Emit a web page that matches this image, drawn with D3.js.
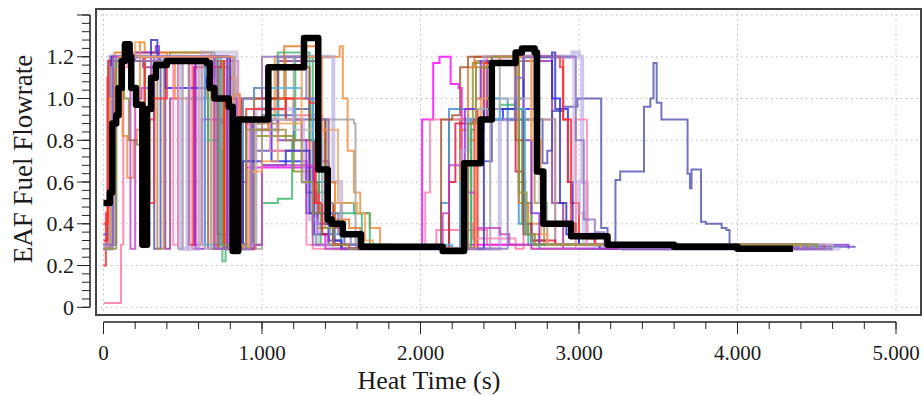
<!DOCTYPE html>
<html>
<head>
<meta charset="utf-8">
<script src="https://cdn.jsdelivr.net/npm/d3@7/dist/d3.min.js"></script>
<style>
    body { margin: 0; background: #fff; }
    text { font-family: "Liberation Serif", "DejaVu Serif", serif; fill: #1a1a1a; }
</style>
</head>
<body>
<svg id="chart" width="923" height="396"></svg>
<script>
// tick values shown on the axes
const xTickValues = [0, 1000, 2000, 3000, 4000, 5000]
const yTickValues = [0, 0.2, 0.4, 0.6, 0.8, 1.0, 1.2]

// each heat: [time (s), fuel flowrate] steps, value held until next step
const heat01 = [[0,0.02],[100,0.02],[110,0.3],[125,1.15],[150,1.18],[500,1.18],[560,0.28],[600,1.18],[820,1.18],[850,0.3],[900,0.88],[1000,0.92],[1150,0.92],[1380,0.5],[1450,0.3],[1600,0.28],[2050,0.28],[2100,0.37],[2300,0.37],[2420,0.3],[2600,0.28],[2650,0.9],[2820,0.9],[2850,0.3],[4400,0.28]]
const heat02 = [[0,0.2],[15,0.45],[35,1.0],[50,1.18],[250,1.18],[260,0.52],[290,0.9],[320,1.18],[720,1.18],[760,0.35],[800,0.28],[880,1.0],[1100,1.0],[1200,0.95],[1300,0.6],[1360,0.45],[1450,0.3],[1550,0.28],[2330,0.28],[2360,0.95],[2420,1.0],[2450,1.2],[2870,1.2],[2900,0.9],[2950,0.5],[3000,0.35],[3100,0.3],[4300,0.28]]
const heat03 = [[0,0.35],[30,1.18],[560,1.18],[580,0.3],[620,0.9],[750,0.88],[800,0.3],[880,0.6],[900,0.67],[1300,0.67],[1330,0.55],[1350,0.35],[1400,0.3],[1500,0.28],[2000,0.28],[2010,0.9],[2080,1.17],[2120,1.2],[2190,1.07],[2240,1.05],[2260,0.3],[2300,0.3],[2900,0.28],[4500,0.28]]
const heat04 = [[0,0.28],[40,1.0],[60,1.2],[240,1.2],[250,1.15],[380,1.15],[390,0.28],[420,1.0],[470,1.18],[640,1.18],[660,0.28],[700,1.2],[770,1.2],[790,0.28],[900,0.28],[950,0.95],[1050,0.95],[1100,1.18],[1300,1.18],[1350,0.7],[1420,0.5],[1500,0.35],[1600,0.28],[2200,0.28],[2250,0.9],[2400,0.9],[2420,1.18],[2800,1.18],[2830,0.5],[2900,0.3],[4500,0.28]]
const heat05 = [[0,0.3],[50,1.18],[380,1.18],[390,1.05],[640,1.05],[650,1.1],[700,1.2],[800,1.2],[820,0.3],[900,0.3],[940,0.9],[1040,0.9],[1060,0.7],[1200,0.7],[1280,0.55],[1330,0.35],[1420,0.3],[1500,0.28],[2280,0.28],[2300,0.9],[2500,0.9],[2520,0.95],[2700,0.95],[2720,1.2],[2800,1.2],[2830,1.0],[2880,0.95],[2930,0.6],[2960,0.35],[3000,0.3],[4400,0.28]]
const heat06 = [[0,0.3],[80,1.2],[300,1.2],[320,0.28],[360,1.2],[700,1.2],[720,0.35],[760,0.28],[900,0.28],[950,0.75],[1100,0.75],[1200,0.9],[1350,0.9],[1400,0.45],[1460,0.4],[1520,0.3],[1600,0.28],[2300,0.28],[2350,0.7],[2450,0.9],[2750,0.9],[2770,0.69],[2800,0.75],[2830,0.94],[2900,0.96],[2990,1.0],[3130,1.0],[3140,0.38],[3180,0.3],[3220,0.28],[3230,0.61],[3260,0.65],[3400,0.65],[3410,0.96],[3450,1.0],[3470,1.17],[3490,0.98],[3520,0.9],[3680,0.9],[3685,0.64],[3700,0.57],[3710,0.66],[3760,0.66],[3770,0.41],[3800,0.4],[3900,0.38],[3930,0.37],[3950,0.29],[4745,0.29]]
const heat07 = [[0,0.3],[40,1.2],[110,1.2],[120,0.82],[150,0.62],[190,0.8],[210,0.85],[230,1.27],[260,1.22],[400,1.2],[450,1.0],[600,1.0],[650,1.05],[700,0.3],[760,0.28],[780,1.1],[840,0.3],[900,0.3],[1000,0.9],[1080,1.2],[1380,1.2],[1490,1.25],[1510,1.0],[1540,0.75],[1580,0.55],[1620,0.45],[1680,0.38],[1745,0.3],[1850,0.28],[2250,0.28],[2300,0.8],[2380,1.15],[2420,1.2],[2650,1.2],[2700,0.4],[2800,0.3],[4400,0.28]]
const heat08 = [[0,0.28],[30,0.9],[60,1.18],[400,1.18],[420,1.22],[700,1.2],[720,0.3],[850,0.28],[900,0.3],[1000,0.5],[1100,0.52],[1190,0.8],[1210,1.2],[1300,1.2],[1320,0.35],[1340,0.3],[1370,0.5],[1560,0.5],[1580,0.45],[1650,0.45],[1680,0.3],[1800,0.28],[2280,0.28],[2320,0.85],[2400,1.15],[2450,1.2],[2560,1.2],[2600,0.9],[2650,0.5],[2700,0.32],[2800,0.3],[4400,0.28]]
const heat09 = [[0,0.3],[30,1.15],[80,1.2],[330,1.2],[340,0.28],[380,1.2],[600,1.2],[620,0.3],[660,1.2],[760,1.2],[790,0.28],[880,0.28],[900,0.88],[1100,0.9],[1150,1.2],[1300,1.2],[1350,0.9],[1420,0.5],[1500,0.35],[1600,0.29],[2200,0.28],[2250,0.9],[2350,1.18],[2680,1.18],[2720,0.5],[2780,0.3],[4350,0.28]]
const heat10 = [[0,0.28],[60,0.3],[70,1.18],[450,1.18],[470,0.28],[500,1.2],[800,1.2],[830,0.28],[950,0.28],[1000,0.9],[1100,0.9],[1200,1.2],[1300,1.2],[1350,0.9],[1580,0.88],[1590,0.3],[1700,0.28],[2400,0.28],[2440,0.9],[2500,1.18],[2600,1.18],[2650,0.9],[2780,0.9],[2850,0.3],[4500,0.28]]
const heat11 = [[0,0.28],[50,1.2],[480,1.2],[490,0.28],[530,1.0],[700,1.2],[760,1.2],[780,0.28],[900,0.28],[940,0.85],[1050,0.85],[1100,1.2],[1400,1.2],[1450,0.6],[1500,0.35],[1600,0.28],[2400,0.28],[2500,0.9],[2600,1.2],[2960,1.22],[3000,1.2],[3020,0.6],[3050,0.35],[3100,0.3],[3250,0.3],[3280,0.28],[4600,0.28]]
const heat12 = [[0,0.3],[50,1.0],[100,1.2],[130,1.0],[160,0.8],[210,0.78],[230,0.9],[260,1.18],[650,1.18],[680,0.28],[730,1.15],[780,1.15],[800,0.28],[900,0.28],[950,0.82],[1150,0.82],[1200,0.65],[1300,0.6],[1350,0.38],[1420,0.3],[1500,0.28],[2150,0.28],[2180,0.9],[2300,0.9],[2330,1.17],[2580,1.17],[2620,0.6],[2660,0.35],[2720,0.3],[4450,0.28]]
const heat13 = [[0,0.35],[40,1.15],[80,1.2],[700,1.2],[740,0.3],[800,0.28],[880,0.9],[1000,0.92],[1200,0.95],[1300,1.0],[1320,0.6],[1400,0.4],[1460,0.3],[1600,0.28],[2100,0.28],[2130,0.5],[2180,0.95],[2400,1.0],[2500,1.0],[2550,0.9],[2620,0.4],[2700,0.3],[2750,0.28],[4400,0.28]]
const heat14 = [[0,0.32],[25,1.1],[60,1.2],[520,1.2],[540,0.3],[570,1.15],[740,1.18],[760,0.3],[850,0.28],[870,1.0],[950,1.05],[1000,1.0],[1150,0.9],[1250,0.8],[1330,0.5],[1380,0.35],[1450,0.3],[1500,0.28],[2150,0.28],[2180,0.6],[2220,0.88],[2330,0.9],[2400,0.95],[2560,0.95],[2600,0.65],[2650,0.4],[2700,0.32],[2850,0.3],[4550,0.28]]
const heat15 = [[0,0.28],[40,0.9],[70,1.22],[660,1.22],[680,0.3],[720,0.28],[770,1.0],[830,1.02],[860,0.28],[900,0.28],[960,0.85],[1040,1.0],[1140,1.25],[1300,1.25],[1340,0.85],[1400,0.6],[1460,0.42],[1550,0.38],[1620,0.3],[1700,0.28],[2200,0.28],[2250,0.85],[2300,1.15],[2340,1.2],[2580,1.2],[2620,0.5],[2680,0.35],[2750,0.3],[4450,0.28]]
const heat16 = [[0,0.28],[20,0.3],[60,1.2],[420,1.2],[440,0.3],[470,1.2],[780,1.2],[800,0.28],[880,0.28],[920,0.9],[1000,0.9],[1050,0.75],[1250,0.7],[1280,0.3],[1320,0.28],[2000,0.28],[2030,0.55],[2060,0.9],[2250,0.9],[2300,0.4],[2330,0.33],[2560,0.33],[2600,0.3],[2700,0.28],[2950,0.28],[2980,0.9],[3020,0.9],[3050,0.3],[4300,0.28]]
const heat17 = [[0,0.3],[40,1.18],[180,1.18],[200,1.22],[330,1.25],[350,1.18],[560,1.18],[580,0.28],[620,0.28],[640,1.2],[760,1.2],[780,0.28],[860,0.3],[900,0.9],[1080,0.9],[1100,0.8],[1200,0.8],[1280,0.45],[1350,0.4],[1420,0.32],[1500,0.28],[2250,0.28],[2280,0.95],[2350,1.0],[2380,1.18],[2600,1.2],[2650,0.8],[2700,0.45],[2750,0.3],[4700,0.28]]
const heat18 = [[0,0.3],[50,1.18],[640,1.18],[660,0.8],[720,0.75],[750,0.22],[770,0.3],[850,0.28],[900,0.9],[1000,0.92],[1100,1.22],[1260,1.22],[1300,0.8],[1360,0.55],[1420,0.45],[1600,0.45],[1630,0.3],[1750,0.28],[2280,0.28],[2320,0.9],[2400,0.95],[2500,0.97],[2600,0.95],[2640,0.4],[2680,0.3],[4500,0.28]]
const heat19 = [[0,0.3],[40,1.18],[700,1.18],[720,0.28],[900,0.28],[950,1.0],[1050,1.0],[1100,1.15],[1250,1.15],[1300,0.9],[1400,0.5],[1450,0.38],[1500,0.3],[1600,0.28],[2100,0.28],[2130,0.9],[2200,0.92],[2250,1.15],[2300,1.2],[2550,1.2],[2600,0.8],[2650,0.35],[2700,0.3],[4400,0.28]]
const heat20 = [[0,0.3],[40,1.2],[520,1.2],[540,0.28],[600,0.3],[620,1.22],[820,1.22],[840,0.28],[920,0.3],[960,0.95],[1100,0.95],[1200,0.9],[1260,0.6],[1300,0.42],[1350,0.3],[1450,0.28],[2200,0.28],[2260,0.75],[2300,0.9],[2400,1.2],[2950,1.2],[2970,0.6],[3000,0.45],[3030,0.3],[3250,0.3],[3280,0.28],[4650,0.28]]
const heat21 = [[0,0.3],[60,1.2],[600,1.2],[640,0.3],[700,0.28],[800,0.3],[880,1.0],[950,1.05],[1100,1.05],[1250,1.0],[1320,0.8],[1380,0.5],[1430,0.35],[1500,0.3],[2200,0.28],[2250,0.6],[2300,0.9],[2450,0.9],[2500,0.95],[2620,0.95],[2660,0.35],[2700,0.3],[4500,0.28]]
const heat22 = [[0,0.4],[30,1.18],[150,1.2],[260,0.9],[280,0.5],[300,0.5],[320,1.0],[400,1.18],[740,1.18],[760,0.28],[870,0.28],[900,0.95],[1150,1.0],[1300,0.98],[1340,0.5],[1380,0.4],[1450,0.3],[1550,0.28],[2300,0.28],[2340,0.9],[2400,1.17],[2500,1.2],[2880,1.15],[2900,0.9],[2930,0.6],[2950,0.4],[2980,0.35],[3050,0.33],[3100,0.3],[3200,0.28],[4300,0.28]]
const heat23 = [[0,0.28],[50,1.2],[270,1.2],[300,1.28],[340,1.2],[780,1.2],[800,0.28],[850,0.28],[880,0.7],[1000,0.68],[1150,0.75],[1260,0.75],[1300,0.45],[1400,0.4],[1450,0.32],[1500,0.28],[2350,0.28],[2400,0.95],[2600,1.0],[2650,1.2],[2830,1.22],[2850,0.95],[2880,0.5],[2920,0.35],[3000,0.3],[3130,0.28],[4450,0.28]]
const heat24 = [[0,0.28],[50,1.15],[70,1.2],[580,1.2],[600,0.3],[640,0.28],[680,1.0],[750,1.0],[800,0.28],[900,0.3],[960,0.9],[1100,0.9],[1200,0.85],[1300,0.85],[1380,0.5],[1500,0.35],[1600,0.3],[1700,0.28],[2300,0.28],[2350,0.95],[2500,1.0],[2700,1.0],[2750,0.5],[2800,0.3],[4600,0.28]]
const heat25 = [[0,0.3],[60,1.2],[160,1.2],[170,0.28],[200,1.0],[240,1.05],[300,1.2],[680,1.2],[700,0.28],[760,0.3],[800,1.0],[840,0.28],[950,0.3],[1000,0.68],[1300,0.68],[1320,0.3],[1400,0.28],[2100,0.28],[2140,0.45],[2180,0.68],[2250,0.68],[2300,0.55],[2350,0.38],[2500,0.35],[2560,0.3],[2700,0.28],[4550,0.28]]
const heat26 = [[0,0.3],[40,1.0],[100,1.2],[200,1.27],[230,1.2],[800,1.2],[820,0.3],[880,0.28],[920,0.65],[1000,0.7],[1100,0.88],[1200,0.88],[1250,1.2],[1330,1.2],[1380,0.85],[1480,0.5],[1600,0.45],[1650,0.32],[1700,0.3],[1800,0.28],[2300,0.28],[2350,1.0],[2450,1.17],[2500,1.2],[2650,1.2],[2700,0.8],[2760,0.35],[2800,0.3],[4400,0.28]]
const heat27 = [[0,0.28],[80,1.18],[730,1.18],[750,0.3],[860,0.28],[900,0.85],[1000,0.85],[1150,0.8],[1250,0.6],[1320,0.45],[1400,0.38],[1450,0.3],[1550,0.28],[2250,0.28],[2300,0.88],[2350,1.15],[2450,1.2],[2600,1.2],[2620,0.55],[2670,0.35],[2720,0.3],[4500,0.28]]
const heat28 = [[0,0.3],[60,1.18],[700,1.18],[720,0.28],[900,0.28],[930,0.9],[1000,1.2],[1250,1.2],[1280,1.0],[1350,0.9],[1420,0.45],[1480,0.35],[1560,0.3],[1650,0.28],[2500,0.28],[2550,0.9],[2600,1.1],[2650,1.2],[2960,1.2],[2980,0.8],[3030,0.42],[3100,0.36],[3160,0.3],[3250,0.28],[4600,0.28]]

// the highlighted heat drawn on top
const referenceHeat = [[0,0.5],[40,0.55],[55,0.88],[80,0.92],[95,1.05],[115,1.18],[135,1.26],[165,1.2],[175,1.05],[205,0.97],[245,0.3],[275,0.95],[300,1.1],[330,1.16],[400,1.18],[650,1.17],[670,1.05],[700,1.0],[790,0.96],[815,0.27],[850,0.9],[1040,1.15],[1265,1.29],[1355,0.66],[1415,0.42],[1440,0.4],[1510,0.35],[1625,0.29],[2140,0.27],[2275,0.69],[2380,0.9],[2450,1.17],[2600,1.22],[2640,1.24],[2720,1.22],[2735,0.65],[2775,0.4],[2950,0.34],[3180,0.3],[3600,0.29],[4000,0.28],[4350,0.28]]

const heats = [heat01, heat02, heat03, heat04, heat05, heat06, heat07, heat08, heat09, heat10, heat11, heat12, heat13, heat14,
    heat15, heat16, heat17, heat18, heat19, heat20, heat21, heat22, heat23, heat24, heat25, heat26, heat27, heat28]

const HEAT_COLOURS = ["#ff6f9f", "#ff2020", "#ff00ff", "#9b30a0", "#2222ff", "#5050b0", "#f08a3c", "#34b364", "#b08850", "#a0a0a0",
    "#a898d8", "#8c8c2c", "#3d8fd8", "#dc143c", "#e8741c", "#ff7fb0", "#8a2be2", "#3cb371", "#a0522d", "#b8a8d8",
    "#4fb0e0", "#ff3030", "#3030c0", "#b8b8b8", "#c040c0", "#f5a05a", "#989040", "#9070c0"]

const svg = d3.select("#chart")
const frame = { left: 96, top: 9, right: 921, bottom: 315 }

const x = d3.scaleLinear().domain([0, 5000]).range([103.5, 896])
const y = d3.scaleLinear().domain([0, 1.4]).range([307.3, 15])

const fmtX = (d) => d3.format(",")(d).replace(/,/g, ".")
const fmtY = (d) => (d === 0 ? "0" : d3.format(".1f")(d))

// grid
const grid = svg.append("g").attr("stroke", "#bdbdbd").attr("stroke-dasharray", "1.5,3.5")
grid.selectAll("line.h")
    .data(d3.range(0, 1.41, 0.2))
    .join("line")
    .attr("x1", frame.left).attr("x2", frame.right)
    .attr("y1", (d) => y(d)).attr("y2", (d) => y(d))
grid.selectAll("line.v")
    .data(xTickValues)
    .join("line")
    .attr("y1", frame.top).attr("y2", frame.bottom)
    .attr("x1", (d) => x(d)).attr("x2", (d) => x(d))

svg.append("clipPath").attr("id", "plot-clip")
    .append("rect")
    .attr("x", frame.left).attr("y", frame.top)
    .attr("width", frame.right - frame.left).attr("height", frame.bottom - frame.top)

const line = d3.line()
    .x((d) => x(d[0]))
    .y((d) => y(d[1]))
    .curve(d3.curveStepAfter)

const plot = svg.append("g").attr("clip-path", "url(#plot-clip)")

heats.forEach((heat, i) => {
    const wide = i === 10 || i === 19
    plot.append("path")
        .datum(heat)
        .attr("fill", "none")
        .attr("stroke", HEAT_COLOURS[i])
        .attr("stroke-width", wide ? 4 : 2)
        .attr("stroke-opacity", wide ? 0.55 : 0.8)
        .attr("d", line)
})

plot.append("path")
    .datum(referenceHeat)
    .attr("fill", "none")
    .attr("stroke", "#000")
    .attr("stroke-width", 6.5)
    .attr("stroke-linejoin", "round")
    .attr("d", line)

svg.append("rect")
    .attr("x", frame.left).attr("y", frame.top)
    .attr("width", frame.right - frame.left).attr("height", frame.bottom - frame.top)
    .attr("fill", "none")
    .attr("stroke", "#444")
    .attr("stroke-width", 2)

// y axis
const yAxisX = 90
const yAxis = svg.append("g").attr("stroke", "#222")
yAxis.append("line").attr("x1", yAxisX).attr("x2", yAxisX).attr("y1", y(1.4)).attr("y2", y(0)).attr("stroke-width", 1.5)
yAxis.selectAll("line.minor")
    .data(d3.range(0, 1.401, 0.04))
    .join("line")
    .attr("x1", yAxisX).attr("x2", yAxisX - 8)
    .attr("y1", (d) => y(d)).attr("y2", (d) => y(d))
yAxis.selectAll("line.major")
    .data([...yTickValues, 1.4])
    .join("line")
    .attr("x1", yAxisX).attr("x2", yAxisX - 13)
    .attr("y1", (d) => y(d)).attr("y2", (d) => y(d))
svg.append("g").selectAll("text")
    .data(yTickValues)
    .join("text")
    .attr("x", 74)
    .attr("y", (d) => y(d))
    .attr("dy", "0.35em")
    .attr("text-anchor", "end")
    .attr("font-size", 22)
    .text(fmtY)

// x axis
const xAxisY = 322
const xAxis = svg.append("g").attr("stroke", "#222")
xAxis.append("line").attr("x1", x(0)).attr("x2", x(5000)).attr("y1", xAxisY).attr("y2", xAxisY).attr("stroke-width", 1.5)
xAxis.selectAll("line.minor")
    .data(d3.range(0, 5001, 200))
    .join("line")
    .attr("x1", (d) => x(d)).attr("x2", (d) => x(d))
    .attr("y1", xAxisY).attr("y2", xAxisY + 7)
xAxis.selectAll("line.major")
    .data(xTickValues)
    .join("line")
    .attr("x1", (d) => x(d)).attr("x2", (d) => x(d))
    .attr("y1", xAxisY).attr("y2", xAxisY + 12)
svg.append("g").selectAll("text")
    .data(xTickValues)
    .join("text")
    .attr("x", (d) => x(d))
    .attr("y", 360)
    .attr("text-anchor", "middle")
    .attr("font-size", 21)
    .text(fmtX)

svg.append("text")
    .attr("x", 429)
    .attr("y", 389)
    .attr("text-anchor", "middle")
    .attr("font-size", 26)
    .text("Heat Time (s)")

svg.append("text")
    .attr("transform", `translate(32, 159) rotate(-90)`)
    .attr("text-anchor", "middle")
    .attr("font-size", 27)
    .text("EAF Fuel Flowrate")
</script>
</body>
</html>
